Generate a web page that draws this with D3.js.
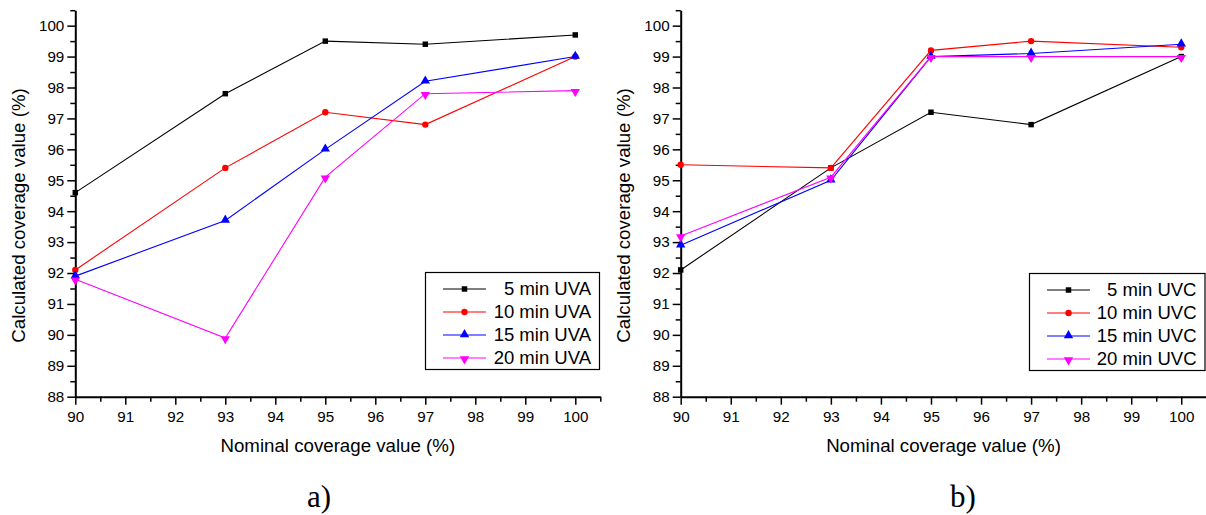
<!DOCTYPE html>
<html>
<head>
<meta charset="utf-8">
<script src="https://cdn.jsdelivr.net/npm/d3@7"></script>
<style>
  html, body { margin: 0; padding: 0; background: #fff; }
  svg { display: block; }
  text { font-family: "Liberation Sans", Arial, sans-serif; fill: #000; }
</style>
</head>
<body>
<svg id="chart" width="1206" height="515"></svg>
<script>
// ---------- data ----------
const nominal = [90, 93, 95, 97, 100];

const uva5  = [94.6, 97.8, 99.5, 99.4, 99.7];
const uva10 = [92.1, 95.4, 97.2, 96.8, 99.0];
const uva15 = [91.9, 93.7, 96.0, 98.2, 99.0];
const uva20 = [91.8, 89.9, 95.1, 97.8, 97.9];

const uvc5  = [92.1, 95.4, 97.2, 96.8, 99.0];
const uvc10 = [95.5, 95.4, 99.2, 99.5, 99.3];
const uvc15 = [92.9, 95.0, 99.0, 99.1, 99.4];
const uvc20 = [93.2, 95.1, 99.0, 99.0, 99.0];

const uvaLabels = ["5 min UVA", "10 min UVA", "15 min UVA", "20 min UVA"];
const uvcLabels = ["5 min UVC", "10 min UVC", "15 min UVC", "20 min UVC"];

const xTicks = [90, 91, 92, 93, 94, 95, 96, 97, 98, 99, 100];
const yTicks = [88, 89, 90, 91, 92, 93, 94, 95, 96, 97, 98, 99, 100];
const xMinor = [90.5, 91.5, 92.5, 93.5, 94.5, 95.5, 96.5, 97.5, 98.5, 99.5, 100.5];
const yMinor = [88.5, 89.5, 90.5, 91.5, 92.5, 93.5, 94.5, 95.5, 96.5, 97.5, 98.5, 99.5, 100.5];

const xTitle = "Nominal coverage value (%)";
const yTitle = "Calculated coverage value (%)";
const panelLabels = ["a)", "b)"];

// ---------- styles ----------
const colors = ["#000000", "#ff0000", "#0000ff", "#ff00ff"];
const symbols = [d3.symbolSquare, d3.symbolCircle, d3.symbolTriangle, d3.symbolTriangle];
const symSizes = [30, 32, 38, 38];
const symRot = [0, 0, 0, 180];

const svg = d3.select("#chart");

function drawPanel(cfg) {
  const x = d3.scaleLinear().domain([90, 100.5]).range([cfg.x0, cfg.x1]);
  const y = d3.scaleLinear().domain([88, 100.5]).range([396.7, 10.2]);
  const g = svg.append("g");

  // minor ticks
  g.append("g").attr("transform", `translate(0,${y(88)})`)
    .call(d3.axisBottom(x).tickValues(xMinor).tickSize(5).tickSizeOuter(0).tickFormat(""))
    .call(s => s.select(".domain").remove())
    .call(s => s.selectAll("line").attr("stroke-width", 1.5));
  g.append("g").attr("transform", `translate(${x(90)},0)`)
    .call(d3.axisLeft(y).tickValues(yMinor).tickSize(5).tickSizeOuter(0).tickFormat(""))
    .call(s => s.select(".domain").remove())
    .call(s => s.selectAll("line").attr("stroke-width", 1.5));

  // major axes
  const xa = g.append("g").attr("transform", `translate(0,${y(88)})`)
    .call(d3.axisBottom(x).tickValues(xTicks).tickSize(8).tickSizeOuter(0).tickPadding(6.5));
  const ya = g.append("g").attr("transform", `translate(${x(90)},0)`)
    .call(d3.axisLeft(y).tickValues(yTicks).tickSize(8).tickSizeOuter(0).tickPadding(3));
  [xa, ya].forEach(a => {
    a.select(".domain").attr("stroke-width", 2);
    a.selectAll(".tick line").attr("stroke-width", 1.5);
    a.selectAll("text").attr("font-size", 15.2)
      .attr("font-family", '"Liberation Sans", Arial, sans-serif').attr("fill", "#000");
  });
  xa.selectAll("text").attr("dy", "0.71em");

  // titles
  g.append("text").attr("x", (cfg.x0 + x(100.5)) / 2 + cfg.xtShift).attr("y", 452)
    .attr("text-anchor", "middle").attr("font-size", 18.7).text(xTitle);
  g.append("text").attr("transform", `translate(${cfg.ytX},215.5) rotate(-90)`)
    .attr("text-anchor", "middle").attr("font-size", 18.7).text(yTitle);
  g.append("text").attr("x", cfg.labelX).attr("y", 507)
    .attr("text-anchor", "middle").attr("font-size", 31)
    .style("font-family", '"Liberation Serif", "Times New Roman", serif')
    .text(cfg.panelLabel);

  // series
  const line = d3.line().x((d, i) => x(nominal[i])).y(d => y(d));
  cfg.series.forEach((vals, k) => {
    g.append("path").datum(vals).attr("d", line)
      .attr("fill", "none").attr("stroke", colors[k]).attr("stroke-width", 1.1);
  });
  cfg.series.forEach((vals, k) => {
    g.append("g").selectAll("path").data(vals).join("path")
      .attr("d", d3.symbol().type(symbols[k]).size(symSizes[k]))
      .attr("transform", (d, i) => `translate(${x(nominal[i])},${y(d) + (symRot[k] ? 1 : (symbols[k] === d3.symbolTriangle ? -0.5 : 0))}) rotate(${symRot[k]})`)
      .attr("fill", colors[k]);
  });

  // legend
  const lg = g.append("g");
  lg.append("rect").attr("x", cfg.lgX0 + 0.5).attr("y", cfg.lgY0 + 0.5)
    .attr("width", cfg.lgX1 - cfg.lgX0).attr("height", cfg.lgY1 - cfg.lgY0)
    .attr("fill", "#fff").attr("stroke", "#000").attr("stroke-width", 1.2);
  cfg.labels.forEach((lab, k) => {
    const ry = cfg.lgY0 + 17 + k * 23;
    lg.append("line").attr("x1", cfg.lgX0 + 18).attr("x2", cfg.lgX0 + 61)
      .attr("y1", ry).attr("y2", ry).attr("stroke", colors[k]).attr("stroke-width", 1.2);
    lg.append("path").attr("d", d3.symbol().type(symbols[k]).size(symSizes[k])())
      .attr("transform", `translate(${cfg.lgX0 + 39.5},${ry + (symRot[k] ? 1 : (symbols[k] === d3.symbolTriangle ? -0.5 : 0))}) rotate(${symRot[k]})`)
      .attr("fill", colors[k]);
    lg.append("text").attr("x", cfg.lgX1 - 8).attr("y", ry).attr("dy", "0.35em")
      .attr("text-anchor", "end").attr("font-size", 18.5).text(lab);
  });
}

drawPanel({
  x0: 75.3, x1: 600.3, series: [uva5, uva10, uva15, uva20], labels: uvaLabels,
  ytX: 25, xtShift: 0, labelX: 319, panelLabel: panelLabels[0],
  lgX0: 425, lgX1: 599, lgY0: 272, lgY1: 369
});
drawPanel({
  x0: 680.7, x1: 1206.3, series: [uvc5, uvc10, uvc15, uvc20], labels: uvcLabels,
  ytX: 630, xtShift: 0, labelX: 963, panelLabel: panelLabels[1],
  lgX0: 1029, lgX1: 1204.5, lgY0: 273, lgY1: 370
});
</script>
</body>
</html>
